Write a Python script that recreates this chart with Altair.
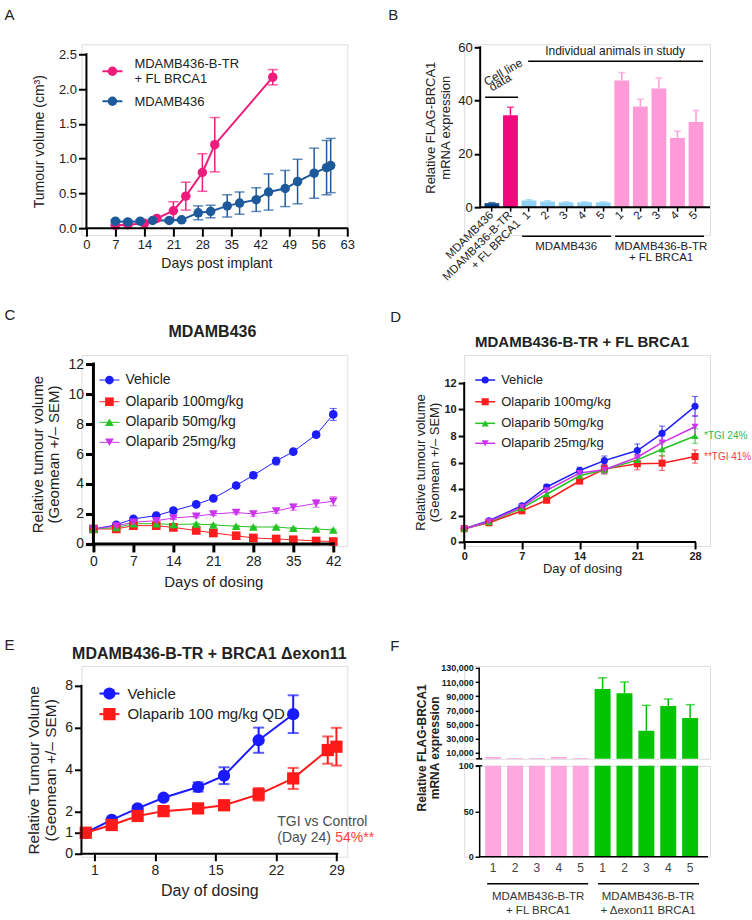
import altair as alt
import pandas as pd

FONT = "Liberation Sans"
TXT = "#222222"
ONE = pd.DataFrame({"k": [0]})

# ---------------- Panel A data ----------------
A_NAMES = ["MDAMB436-B-TR + FL BRCA1", "MDAMB436"]
A_COLORS = ["#ef1c7c", "#1d5a9b"]
a_fl_day = [7, 10, 14, 17, 21, 24, 28, 31, 45]
a_fl_mean = [0.04, 0.05, 0.07, 0.14, 0.25, 0.46, 0.80, 1.20, 2.17]
a_fl_sem = [0.01, 0.01, 0.01, 0.02, 0.13, 0.20, 0.27, 0.39, 0.11]
a_wt_day = [7, 10, 13, 16, 20, 23, 27, 30, 34, 37, 41, 44, 48, 51, 55, 58, 59]
a_wt_mean = [0.10, 0.09, 0.10, 0.11, 0.11, 0.12, 0.22, 0.24, 0.32, 0.36, 0.41, 0.52, 0.57, 0.67, 0.79, 0.87, 0.90]
a_wt_sem = [0.02, 0.02, 0.02, 0.02, 0.02, 0.02, 0.10, 0.09, 0.16, 0.16, 0.17, 0.26, 0.26, 0.32, 0.36, 0.39, 0.39]
a_xticks = [0, 7, 14, 21, 28, 35, 42, 49, 56, 63]
a_yticks = [0, 0.5, 1.0, 1.5, 2.0, 2.5]

# ---------------- Panel B data ----------------
b_ids = ["MDAMB436", "FLcell", "a1", "a2", "a3", "a4", "a5", "b1", "b2", "b3", "b4", "b5"]
b_labels = ["MDAMB436", "MDAMB436-B-TR|+ FL BRCA1", "1", "2", "3", "4", "5", "1", "2", "3", "4", "5"]
b_vals = [1.5, 34.5, 2.5, 2.1, 1.8, 1.8, 1.8, 47.5, 37.8, 44.5, 26.0, 32.0]
b_err = [0.2, 3.0, 0.3, 0.3, 0.2, 0.2, 0.2, 3.0, 2.7, 4.0, 2.5, 4.3]
b_colors = ["#0d4a8c", "#f0087c"] + ["#8fd0f5"] * 5 + ["#ff9ad8"] * 5
b_yticks = [0, 20, 40, 60]

# ---------------- Panel C data ----------------
CD_NAMES = ["Vehicle", "Olaparib 100mg/kg", "Olaparib 50mg/kg", "Olaparib 25mg/kg"]
CD_COLORS = ["#1d1dfa", "#fa1e1e", "#22c322", "#cc33ee"]
CD_SHAPES = ["circle", "square", "triangle-up", "triangle-down"]
c_day = [0, 4, 7, 11, 14, 18, 21, 25, 28, 32, 35, 39, 42]
c_veh = [1.0, 1.27, 1.67, 1.89, 2.22, 2.64, 3.04, 3.90, 4.58, 5.53, 6.16, 7.29, 8.64]
c_veh_sem = [0.02, 0.05, 0.08, 0.08, 0.1, 0.1, 0.1, 0.12, 0.2, 0.25, 0.15, 0.15, 0.4]
c_o100 = [1.0, 1.0, 1.22, 1.22, 1.10, 0.90, 0.73, 0.55, 0.40, 0.33, 0.28, 0.20, 0.16]
c_o100_sem = [0.02, 0.05, 0.08, 0.08, 0.08, 0.1, 0.1, 0.08, 0.05, 0.05, 0.05, 0.05, 0.05]
c_o50 = [1.0, 1.1, 1.35, 1.35, 1.30, 1.33, 1.27, 1.18, 1.13, 1.13, 1.04, 1.0, 0.93]
c_o50_sem = [0.02, 0.05, 0.06, 0.06, 0.06, 0.06, 0.06, 0.06, 0.06, 0.06, 0.06, 0.06, 0.06]
c_o25 = [1.0, 1.2, 1.45, 1.55, 1.73, 1.85, 2.0, 2.1, 2.0, 2.2, 2.45, 2.7, 2.85]
c_o25_sem = [0.02, 0.05, 0.08, 0.08, 0.1, 0.1, 0.1, 0.1, 0.15, 0.15, 0.2, 0.25, 0.3]
c_xticks = [0, 7, 14, 21, 28, 35, 42]
c_yticks = [0, 2, 4, 6, 8, 10, 12]

# ---------------- Panel D data ----------------
d_day = [0, 3, 7, 10, 14, 17, 21, 24, 28]
d_veh = [1.0, 1.6, 2.74, 4.15, 5.4, 6.14, 6.9, 8.2, 10.24]
d_veh_sem = [0.02, 0.05, 0.1, 0.2, 0.25, 0.35, 0.5, 0.55, 0.75]
d_o100 = [1.0, 1.45, 2.35, 3.15, 4.6, 5.5, 5.9, 5.95, 6.45]
d_o100_sem = [0.02, 0.05, 0.1, 0.15, 0.2, 0.35, 0.45, 0.55, 0.5]
d_o50 = [1.0, 1.5, 2.55, 3.6, 5.0, 5.45, 6.2, 7.0, 8.0]
d_o50_sem = [0.02, 0.05, 0.1, 0.15, 0.2, 0.3, 0.4, 0.5, 0.55]
d_o25 = [1.0, 1.55, 2.65, 3.9, 5.2, 5.45, 6.4, 7.5, 8.7]
d_o25_sem = [0.02, 0.05, 0.1, 0.15, 0.2, 0.3, 0.4, 0.5, 0.85]
d_xticks = [0, 7, 14, 21, 28]
d_yticks = [0, 2, 4, 6, 8, 10, 12]

# ---------------- Panel E data ----------------
E_NAMES = ["Vehicle", "Olaparib 100 mg/kg QD"]
E_COLORS = ["#1a1aff", "#ff1a1a"]
E_SHAPES = ["circle", "square"]
e_veh_day = [0, 3, 6, 9, 13, 16, 20, 24]
e_veh = [1.0, 1.61, 2.16, 2.67, 3.18, 3.72, 5.41, 6.65]
e_veh_sem = [0.05, 0.08, 0.1, 0.1, 0.22, 0.4, 0.6, 0.9]
e_ola_day = [0, 3, 6, 9, 13, 16, 20, 24, 28, 29]
e_ola = [1.0, 1.37, 1.80, 2.03, 2.16, 2.31, 2.83, 3.59, 4.94, 5.10]
e_ola_sem = [0.05, 0.08, 0.08, 0.08, 0.1, 0.12, 0.3, 0.5, 0.65, 0.9]
e_xticks = [1, 8, 15, 22, 29]
e_yticks = [0, 1, 2, 4, 6, 8]

# ---------------- Panel F data ----------------
f_ids = ["p1", "p2", "p3", "p4", "p5", "g1", "g2", "g3", "g4", "g5"]
f_labels = ["1", "2", "3", "4", "5", "1", "2", "3", "4", "5"]
f_vals = [4000, 2500, 2500, 4000, 2500, 100000, 94000, 41000, 76000, 59000]
f_err = [0, 0, 0, 0, 0, 16000, 16000, 36000, 10000, 19000]
f_colors = ["#ffa8e0"] * 5 + ["#00c400"] * 5
f_err_colors = ["#ffa8e0"] * 5 + ["#3fd63f"] * 5
f_up_ticks = [10000, 30000, 50000, 70000, 90000, 110000, 130000]
f_lo_ticks = [0, 50, 100]

W1, W2, H = 266, 246, 191  # cell sizes


# ---------------- helpers ----------------
def ext(v0, v1, p0, p1, q0, q1):
    """Domain values that sit at pixels q0, q1 when v0 -> p0 and v1 -> p1."""
    k = (v1 - v0) / (p1 - p0)
    return [v0 + (q0 - p0) * k, v0 + (q1 - p0) * k]


def ax(**kw):
    base = dict(grid=False, domain=False, tickColor="black", labelColor=TXT,
                titleColor=TXT, labelFont=FONT, titleFont=FONT, titleFontWeight="normal",
                labelFlush=False, labelOverlap=False)
    base.update(kw)
    return alt.Axis(**base)


def text(x, y, s, size=12, color=TXT, weight="normal", align="center", baseline="middle", angle=0):
    return alt.Chart(ONE).mark_text(text=s, fontSize=size, font=FONT, color=color, fontWeight=weight,
                                    align=align, baseline=baseline, angle=angle).encode(
        x=alt.value(x), y=alt.value(y))


def hline(x1, x2, y, w=1.5, color="black"):
    return alt.Chart(ONE).mark_rule(strokeWidth=w, color=color).encode(
        x=alt.value(x1), x2=alt.value(x2), y=alt.value(y))


def axis_lines(xs, ys, xax, yax, x_lo, x_hi, y_lo, y_hi, w):
    """Axis lines drawn in data space: y axis at x_lo, x axis at y_lo."""
    xl = alt.Chart(ONE).mark_rule(strokeWidth=w, color="black", strokeCap="square").encode(
        x=alt.X(datum=x_lo, scale=xs, axis=xax), x2=alt.X2(datum=x_hi),
        y=alt.Y(datum=y_lo, scale=ys, axis=yax))
    yl = alt.Chart(ONE).mark_rule(strokeWidth=w, color="black", strokeCap="square").encode(
        y=alt.Y(datum=y_lo, scale=ys, axis=yax), y2=alt.Y2(datum=y_hi),
        x=alt.X(datum=x_lo, scale=xs, axis=xax))
    return [xl, yl]


def legend(names, colors, shapes, ys, xl1, xl2, xm, xt, msize, fsize, lw):
    out = []
    for n, c, s, y in zip(names, colors, shapes, ys):
        out.append(hline(xl1, xl2, y, lw, c))
        out.append(alt.Chart(ONE).mark_point(shape=s, filled=True, size=msize, color=c, opacity=1).encode(
            x=alt.value(xm), y=alt.value(y)))
        out.append(text(xt, y, n, fsize, align="left"))
    return out


def series_df(names, days, means, sems):
    rows = []
    for n, d, m, s in zip(names, days, means, sems):
        for di, mi, si in zip(d, m, s):
            rows.append(dict(series=n, day=di, mean=mi, lo=mi - si, hi=mi + si))
    return pd.DataFrame(rows)


def line_layers(df, names, colors, shapes, msize, lw, elw, cap, xs, ys, xax, yax):
    col = alt.Color("series:N", scale=alt.Scale(domain=names, range=colors), legend=None)
    shp = alt.Shape("series:N", scale=alt.Scale(domain=names, range=shapes), legend=None)
    X = alt.X("day:Q", scale=xs, axis=xax)
    base = alt.Chart(df)
    err = base.mark_rule(strokeWidth=elw).encode(x=X, y=alt.Y("lo:Q", scale=ys, axis=yax), y2="hi:Q", color=col)
    cap_hi = base.mark_tick(orient="horizontal", size=cap, thickness=elw).encode(
        x=X, y=alt.Y("hi:Q", scale=ys, axis=yax), color=col)
    cap_lo = base.mark_tick(orient="horizontal", size=cap, thickness=elw).encode(
        x=X, y=alt.Y("lo:Q", scale=ys, axis=yax), color=col)
    line = base.mark_line(strokeWidth=lw).encode(x=X, y=alt.Y("mean:Q", scale=ys, axis=yax), color=col,
                                                 detail="series:N")
    pts = base.mark_point(filled=True, size=msize, opacity=1).encode(
        x=X, y=alt.Y("mean:Q", scale=ys, axis=yax), color=col, shape=shp)
    return [err, cap_hi, cap_lo, line, pts]


def label_expr(ids, labels):
    expr = "''"
    for i, lab in reversed(list(zip(ids, labels))):
        if "|" in lab:
            v = "[" + ",".join("'%s'" % p for p in lab.split("|")) + "]"
        else:
            v = "'%s'" % lab
        expr = "datum.value == '%s' ? %s : (%s)" % (i, v, expr)
    return expr


# ================= Panel A (cell origin 82,45) =================
dfA = series_df(A_NAMES, [a_fl_day, a_wt_day], [a_fl_mean, a_wt_mean], [a_fl_sem, a_wt_sem])
xA = alt.Scale(domain=ext(0, 63, 5, 266, 0, W1), nice=False, zero=False)
yA = alt.Scale(domain=ext(0, 2.5, 184, 10, H, 0), nice=False, zero=False)
xaxA = ax(values=a_xticks, title="Days post implant", labelFontSize=13, titleFontSize=14,
          tickWidth=2, tickSize=8, labelPadding=2, titlePadding=5, offset=-7, titleX=135)
yaxA = ax(values=a_yticks, format=".1f", title="Tumour volume (cm³)", labelFontSize=13, titleFontSize=14,
          tickWidth=2, tickSize=8, labelPadding=2, titlePadding=12, offset=-5, titleY=97)
A_layers = line_layers(dfA, A_NAMES, A_COLORS, ["circle", "circle"], 90, 2, 1.5, 10, xA, yA, xaxA, yaxA)
A_layers += axis_lines(xA, yA, xaxA, yaxA, 0, 63, 0, 2.5, 2)
A_layers += [
    hline(21, 41, 27, 2, A_COLORS[0]),
    alt.Chart(ONE).mark_point(shape="circle", filled=True, size=90, color=A_COLORS[0], opacity=1).encode(
        x=alt.value(31), y=alt.value(27)),
    text(53, 20, "MDAMB436-B-TR", 13, align="left"),
    text(53, 35, "+ FL BRCA1", 13, align="left"),
    hline(21, 41, 57, 2, A_COLORS[1]),
    alt.Chart(ONE).mark_point(shape="circle", filled=True, size=90, color=A_COLORS[1], opacity=1).encode(
        x=alt.value(31), y=alt.value(57)),
    text(53, 58, "MDAMB436", 13, align="left"),
    text(-77, -36, "A", 15, align="left", baseline="top"),
]
panelA = alt.layer(*A_layers).properties(width=W1, height=H)

# ================= Panel B (cell origin 465,45) =================
dfB = pd.DataFrame({"id": b_ids, "val": b_vals, "hi": [v + e for v, e in zip(b_vals, b_err)]})
xB = alt.X("id:N", sort=b_ids, scale=alt.Scale(domain=b_ids, paddingInner=0.2, paddingOuter=0.724, align=0.755),
           axis=ax(title=None, labelExpr=label_expr(b_ids, b_labels), labelAngle=315, labelAlign="right",
                   labelBaseline="middle", labelFontSize=11.5, labelLineHeight=12,
                   tickWidth=1.5, tickSize=4, labelPadding=2, offset=-28))
yB = alt.Scale(domain=ext(0, 60, 163, 3, H, 0), nice=False, zero=False)
yaxB = ax(values=b_yticks, title=["Relative FLAG-BRCA1", "mRNA expression"], labelFontSize=13,
          titleFontSize=13, titleLineHeight=15, tickWidth=2, tickSize=6, titlePadding=5,
          offset=-16, titleY=83)
colB = alt.Color("id:N", scale=alt.Scale(domain=b_ids, range=b_colors), legend=None)
barsB = alt.Chart(dfB).mark_bar().encode(x=xB, y=alt.Y("val:Q", scale=yB, axis=yaxB), color=colB)
errB = alt.Chart(dfB).mark_rule(strokeWidth=1.5).encode(x=xB, y=alt.Y("val:Q", scale=yB, axis=yaxB),
                                                        y2="hi:Q", color=colB)
capB = alt.Chart(dfB).mark_tick(orient="horizontal", size=7, thickness=1.5).encode(
    x=xB, y=alt.Y("hi:Q", scale=yB, axis=yaxB), color=colB)
B_layers = [barsB, errB, capB,
            alt.Chart(ONE).mark_rule(strokeWidth=2, color="black").encode(
                x=alt.value(16), x2=alt.value(246), y=alt.Y(datum=0, scale=yB, axis=yaxB)),
            alt.Chart(ONE).mark_rule(strokeWidth=2, color="black", strokeCap="square").encode(
                x=alt.value(16), y=alt.Y(datum=0, scale=yB, axis=yaxB), y2=alt.Y2(datum=60)),
            text(151, 7, "Individual animals in study", 12),
            hline(64, 239, 17, 1.5),
            text(39, 28, "Cell line", 12, angle=330),
            text(36, 38, "data", 12, angle=330),
            hline(21, 54, 53, 1.5),
            hline(58, 147, 192, 1.5),
            hline(151, 240, 192, 1.5),
            text(102, 203, "MDAMB436", 11.5),
            text(197, 203, "MDAMB436-B-TR", 11.5),
            text(197, 214, "+ FL BRCA1", 11.5),
            text(-76, -36, "B", 15, align="left", baseline="top")]
panelB = alt.layer(*B_layers).properties(width=W2, height=H)

# ================= Panel C (cell origin 82,355) =================
dfC = series_df(CD_NAMES, [c_day] * 4, [c_veh, c_o100, c_o50, c_o25],
                [c_veh_sem, c_o100_sem, c_o50_sem, c_o25_sem])
xC = alt.Scale(domain=ext(0, 42, 12, 252, 0, W1), nice=False, zero=False)
yC = alt.Scale(domain=ext(0, 12, 189, 9, H, 0), nice=False, zero=False)
xaxC = ax(values=c_xticks, title="Days of dosing", labelFontSize=14, titleFontSize=15,
          tickWidth=3, tickSize=8, labelPadding=3, titlePadding=6, offset=-2, titleX=132)
yaxC = ax(values=c_yticks, title=["Relative tumour volume", "(Geomean +/\u2013 SEM)"], labelFontSize=14,
          titleFontSize=15, titleLineHeight=16, tickWidth=3, tickSize=8, labelPadding=2,
          titlePadding=6, offset=-12, titleY=99)
C_layers = line_layers(dfC, CD_NAMES, CD_COLORS, CD_SHAPES, 75, 1, 1, 7, xC, yC, xaxC, yaxC)
C_layers += axis_lines(xC, yC, xaxC, yaxC, 0, 42, 0, 12, 3)
C_layers += legend(CD_NAMES, CD_COLORS, CD_SHAPES, [25, 46.7, 67.3, 87.3], 18, 38, 28, 44, 75, 14, 1)
C_layers += [text(131, -23, "MDAMB436", 16, weight="bold"),
             text(-77, -47, "C", 15, align="left", baseline="top")]
panelC = alt.layer(*C_layers).properties(width=W1, height=H)

# ================= Panel D (cell origin 465,355) =================
dfD = series_df(CD_NAMES, [d_day] * 4, [d_veh, d_o100, d_o50, d_o25],
                [d_veh_sem, d_o100_sem, d_o50_sem, d_o25_sem])
xD = alt.Scale(domain=ext(0, 28, 0, 231, 0, W2), nice=False, zero=False)
yD = alt.Scale(domain=ext(0, 12, 187, 28, H, 0), nice=False, zero=False)
xaxD = ax(values=d_xticks, title="Day of dosing", labelFontSize=11, labelFontWeight="bold", titleFontSize=13,
          tickWidth=2, tickSize=7, labelPadding=2, titlePadding=1, offset=-4, titleX=118)
yaxD = ax(values=d_yticks, title=["Relative tumour volume", "(Geomean +/\u2013 SEM)"], labelFontSize=11,
          labelFontWeight="bold", titleFontSize=13, titleLineHeight=14, tickWidth=2,
          tickSize=6, labelPadding=2, titlePadding=2, titleY=107)
D_layers = line_layers(dfD, CD_NAMES, CD_COLORS, CD_SHAPES, 50, 1.5, 1, 6, xD, yD, xaxD, yaxD)
D_layers += axis_lines(xD, yD, xaxD, yaxD, 0, 28, 0, 12, 2)
D_layers += legend(CD_NAMES, CD_COLORS, CD_SHAPES, [25, 46.7, 68.3, 88.3], 11, 31, 21, 37, 50, 13, 1.5)
D_layers += [text(118, -13, "MDAMB436-B-TR  + FL BRCA1", 15, weight="bold"),
             text(240, 81, "*TGI 24%", 10, color="#2db84f", align="left"),
             text(240, 102, "**TGI 41%", 10, color="#ff3b3b", align="left"),
             text(-74, -45, "D", 15, align="left", baseline="top")]
panelD = alt.layer(*D_layers).properties(width=W2, height=H)

# ================= Panel E (cell origin 82,665) =================
dfE = series_df(E_NAMES, [e_veh_day, e_ola_day], [e_veh, e_ola], [e_veh_sem, e_ola_sem])
xE = alt.Scale(domain=ext(-0.5, 29.1, 0, 256, 0, W1), nice=False, zero=False)
yE = alt.Scale(domain=ext(0, 8, 188, 20, H, 0), nice=False, zero=False)
xaxE = ax(values=e_xticks, title="Day of dosing", labelFontSize=14, titleFontSize=16,
          tickWidth=2, tickSize=7, labelPadding=3, titlePadding=5, offset=-3, titleX=128)
yaxE = ax(values=e_yticks, title=["Relative Tumour Volume", "(Geomean +/\u2013 SEM)"], labelFontSize=14,
          titleFontSize=15.5, titleLineHeight=17, tickWidth=2, tickSize=7, labelPadding=2,
          titlePadding=6, titleY=104)
E_layers = line_layers(dfE, E_NAMES, E_COLORS, E_SHAPES, 150, 2, 2, 11, xE, yE, xaxE, yaxE)
E_layers += axis_lines(xE, yE, xaxE, yaxE, -0.5, 29.1, 0, 8, 2)
E_layers += legend(E_NAMES, E_COLORS, E_SHAPES, [27.7, 48.3], 18, 38, 28, 46, 150, 15, 2)
E_layers += [text(128, -12, "MDAMB436-B-TR + BRCA1 \u0394exon11", 16, weight="bold"),
             text(196, 156, "TGI vs Control", 14, color="#4d4d4d", align="left"),
             text(196, 172, "(Day 24)", 14, color="#4d4d4d", align="left"),
             text(254, 172, "54%**", 14, color="#ff4040", align="left"),
             text(-77, -28, "E", 15, align="left", baseline="top")]
panelE = alt.layer(*E_layers).properties(width=W1, height=H)

# ================= Panel F (cell origin 465,665) =================
dfF = pd.DataFrame({"id": f_ids, "val": f_vals, "hi": [v + e for v, e in zip(f_vals, f_err)]})
colF = alt.Color("id:N", scale=alt.Scale(domain=f_ids, range=f_colors), legend=None)
colFe = alt.Color("id:N", scale=alt.Scale(domain=f_ids, range=f_err_colors), legend=None)
dfFe = dfF[dfF["hi"] > dfF["val"]]
f_band = dict(domain=f_ids, paddingInner=0.27, paddingOuter=0.751, align=0.638)
FU_H, FL_H = 93, 91

yFu = alt.Scale(domain=ext(10000, 130000, 87, 2, FU_H, 0), nice=False, zero=False)
yaxFu = ax(values=f_up_ticks, labelExpr="format(datum.value, ',')", title=None, labelFontSize=9,
           labelFontWeight="bold", tickWidth=1.5, tickSize=4, labelPadding=2, offset=-15)
xFu = alt.X("id:N", sort=f_ids, scale=alt.Scale(**f_band), axis=None)
Fu_layers = [
    alt.Chart(dfF).mark_bar(clip=True).encode(x=xFu, y=alt.Y("val:Q", scale=yFu, axis=yaxFu), color=colF),
    alt.Chart(dfFe).mark_rule(strokeWidth=1.5).encode(x=xFu, y=alt.Y("val:Q", scale=yFu, axis=yaxFu),
                                                      y2="hi:Q", color=colFe),
    alt.Chart(dfFe).mark_tick(orient="horizontal", size=9, thickness=1.5).encode(
        x=xFu, y=alt.Y("hi:Q", scale=yFu, axis=yaxFu), color=colFe),
    alt.Chart(ONE).mark_rule(strokeWidth=1.5, color="black").encode(
        x=alt.value(15), y=alt.Y(datum=130000, scale=yFu, axis=yaxFu), y2=alt.value(FU_H)),
    hline(12, 18, FU_H, 1.5),
    text(-42, 82, "Relative FLAG-BRCA1", 12, weight="bold", angle=270),
    text(-29, 82, "mRNA expression", 12, weight="bold", angle=270),
    text(-74, -27, "F", 15, align="left", baseline="top"),
]
panelFu = alt.layer(*Fu_layers).properties(width=W2, height=FU_H)

yFl = alt.Scale(domain=[0, 100], nice=False)
yaxFl = ax(values=f_lo_ticks, title=None, labelFontSize=9, labelFontWeight="bold", domain=True,
           domainColor="black", domainWidth=1.5, tickWidth=1.5, tickSize=4, labelPadding=2, offset=-15)
xFl = alt.X("id:N", sort=f_ids, scale=alt.Scale(**f_band),
            axis=ax(title=None, labelExpr=label_expr(f_ids, f_labels), labelAngle=0, labelFontSize=12,
                    labelColor="#444444", ticks=False, labelPadding=6))
Fl_layers = [
    alt.Chart(dfF).mark_bar(clip=True).encode(x=xFl, y=alt.Y("val:Q", scale=yFl, axis=yaxFl), color=colF),
    alt.Chart(ONE).mark_rule(strokeWidth=1.5, color="black").encode(
        x=alt.value(15), x2=alt.value(244), y=alt.Y(datum=0, scale=yFl, axis=yaxFl)),
    hline(12, 18, 0, 1.5),
    hline(23, 124, 118, 1.5),
    hline(134, 235, 118, 1.5),
    text(74, 131, "MDAMB436-B-TR", 11.5, color="#333333"),
    text(74, 145, "+ FL BRCA1", 11.5, color="#333333"),
    text(184, 131, "MDAMB436-B-TR", 11.5, color="#333333"),
    text(184, 145, "+ \u0394exon11 BRCA1", 11.5, color="#333333"),
]
panelFl = alt.layer(*Fl_layers).properties(width=W2, height=FL_H)


def ind(c):
    return c.resolve_scale(color="independent", shape="independent", x="independent", y="independent")


panelF = ind(alt.vconcat(panelFu, panelFl, spacing=7, bounds="flush"))
chart = ind(alt.concat(panelA, panelB, panelC, panelD, panelE, panelF, columns=2,
                       spacing={"row": 120, "column": 117}, bounds="flush", align="all")).properties(
    padding={"left": 3.5, "top": 7, "right": 0, "bottom": 0}
).configure_view(stroke=None).configure(font=FONT, background="white")

chart.save("out.html", embed_options={"renderer": "svg", "actions": False})
